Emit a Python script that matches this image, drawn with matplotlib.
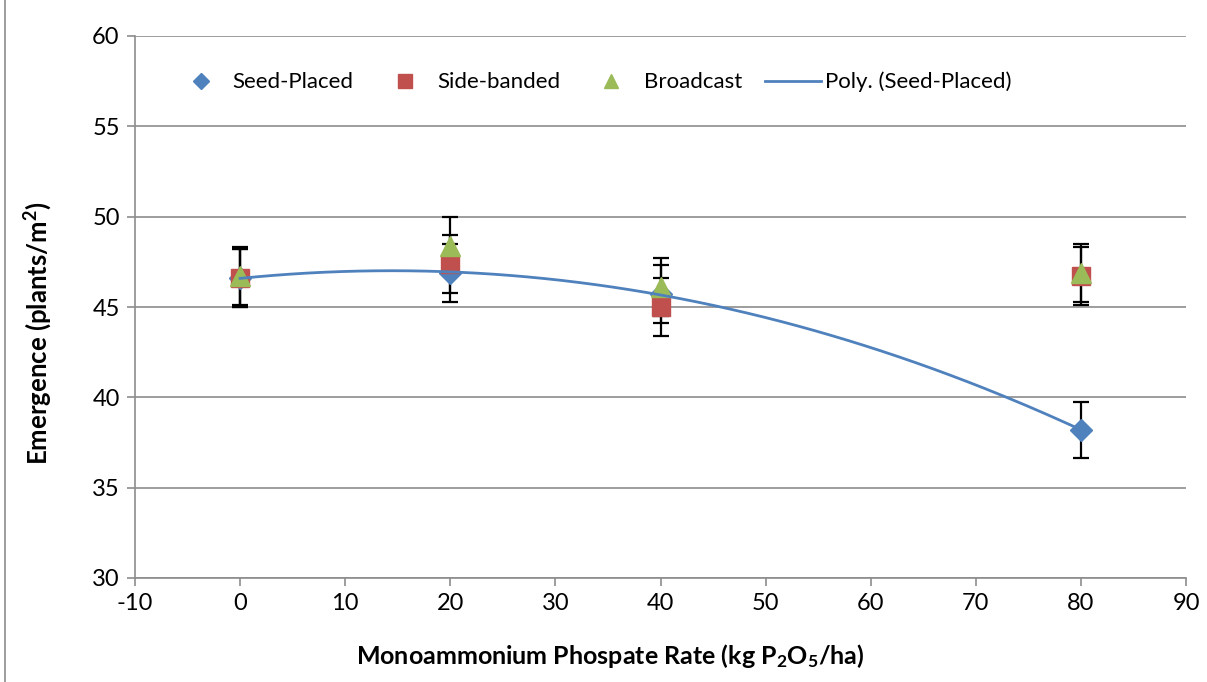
import matplotlib
matplotlib.use("Agg")
import matplotlib.pyplot as plt
import numpy as np
from matplotlib.lines import Line2D

# Données
rate = [0, 20, 40, 80]
seed_placed = [46.6, 46.9, 45.7, 38.2]
side_banded = [46.6, 47.4, 45.0, 46.7]
broadcast = [46.7, 48.4, 46.1, 46.9]
seed_err = [1.6, 1.6, 1.6, 1.55]
side_err = [1.6, 1.6, 1.6, 1.6]
broad_err = [1.6, 1.6, 1.6, 1.6]

BLUE = "#4F81BD"
RED = "#C0504D"
GREEN = "#9BBB59"

plt.rcParams['font.family'] = ['Lato', 'DejaVu Sans']
plt.rcParams['axes.unicode_minus'] = False
plt.rcParams['mathtext.default'] = 'regular'

fig = plt.figure(figsize=(12.07, 6.82), dpi=100)
ax = fig.add_axes([135/1207, 1 - 578/682, (1186 - 135)/1207, (578 - 36)/682])

# Barres d'erreur (sous les marqueurs)
for vals, errs in [(seed_placed, seed_err), (side_banded, side_err), (broadcast, broad_err)]:
    ax.errorbar(rate, vals, yerr=errs, fmt='none', ecolor='black',
                elinewidth=1.6, capsize=6, capthick=1.6, zorder=2)

ax.plot(rate, seed_placed, linestyle='none', marker='D', markersize=11,
        color=BLUE, zorder=3, label='Seed-Placed')
ax.plot(rate, side_banded, linestyle='none', marker='s', markersize=13,
        color=RED, zorder=4, label='Side-banded')
ax.plot(rate, broadcast, linestyle='none', marker='^', markersize=14,
        color=GREEN, zorder=5, label='Broadcast')

# Tendance polynomiale (ordre 2) sur Seed-Placed
coefs = np.polyfit(rate, seed_placed, 2)
xs = np.linspace(0, 80, 200)
ax.plot(xs, np.polyval(coefs, xs), color=BLUE, linewidth=2, zorder=6,
        label='Poly. (Seed-Placed)')

ax.set_xlim(-10, 90)
ax.set_ylim(30, 60)
ax.set_xticks(np.arange(-10, 91, 10))
ax.set_yticks(np.arange(30, 61, 5))
ax.yaxis.grid(True, color='#8C8C8C', linewidth=1.2)
ax.set_axisbelow(True)

for s in ['top', 'right']:
    ax.spines[s].set_visible(False)
for s in ['left', 'bottom']:
    ax.spines[s].set_color('#8C8C8C')
    ax.spines[s].set_linewidth(1.2)
ax.tick_params(axis='both', colors='#8C8C8C', length=6, width=1.2,
               labelcolor='black', labelsize=17, pad=5)

ax.set_xlabel('Monoammonium Phospate Rate (kg P$_2$O$_5$/ha)',
              fontsize=18, fontweight='bold')
ax.xaxis.set_label_coords(0.452, -0.118)
ax.set_ylabel('Emergence (plants/m$^2$)', fontsize=18.5,
              fontweight='bold')
ax.yaxis.set_label_coords(-0.077, 0.452)

handles = [
    Line2D([], [], linestyle='none', marker='D', markersize=8, color=BLUE),
    Line2D([], [], linestyle='none', marker='s', markersize=10, color=RED),
    Line2D([], [], linestyle='none', marker='^', markersize=10, color=GREEN),
    Line2D([], [], color=BLUE, linewidth=2),
]
ax.legend(handles, ['Seed-Placed', 'Side-banded', 'Broadcast', 'Poly. (Seed-Placed)'],
          loc='center', bbox_to_anchor=(0.435, 0.915), ncol=4, frameon=False,
          fontsize=16, columnspacing=1.05, handletextpad=0.2, handlelength=2.5)

# Bordure gauche de la zone du graphique
fig.add_artist(Line2D([5/1207, 5/1207], [0, 1], color='#8C8C8C', linewidth=1.2))

fig.savefig('out.png', dpi=100)
